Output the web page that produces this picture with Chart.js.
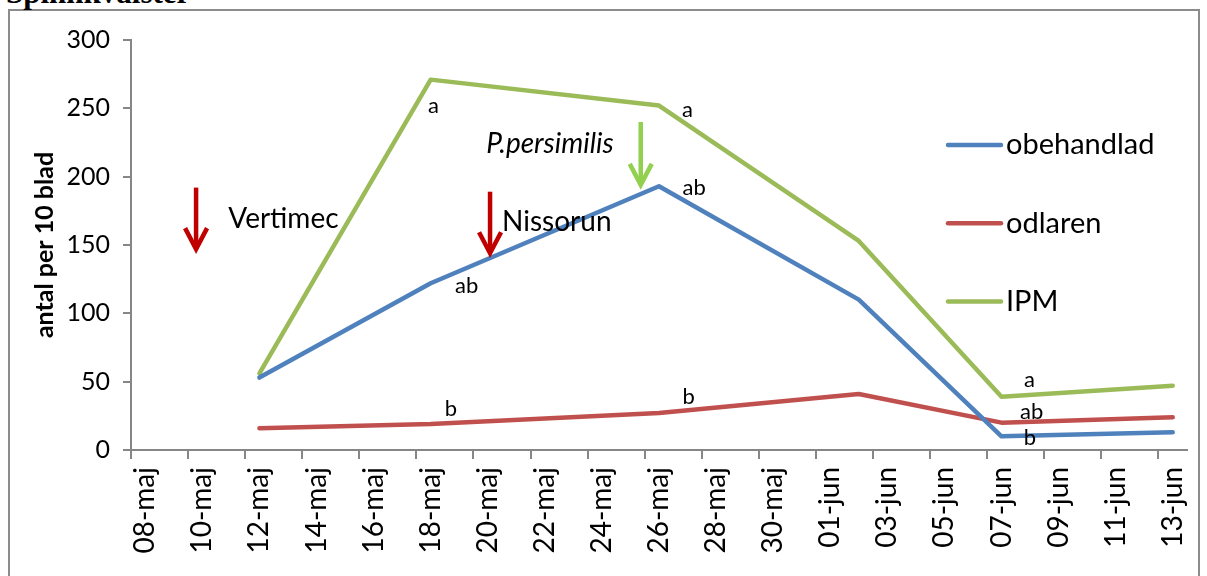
<!DOCTYPE html>
<html>
<head>
<meta charset="utf-8">
<script src="https://cdn.jsdelivr.net/npm/chart.js@4.4.0/dist/chart.umd.min.js"></script>
<style>
  html, body { margin: 0; padding: 0; background: #fff; }
  #wrap { position: relative; width: 1207px; height: 576px; overflow: hidden; }
  #frame { position: absolute; left: 8px; top: 9px; width: 1192px; height: 620px; border: 2px solid #8c8c8c; box-sizing: border-box; }
  #heading { position: absolute; left: 6px; top: -23px; font: bold 31px 'Liberation Serif', serif; line-height: 1; color: #000; white-space: nowrap; }
  canvas { position: absolute; left: 0; top: 0; }
</style>
</head>
<body>
<div id="wrap">
  <div id="frame"></div>
  <div id="heading">Spinnkvalster</div>
  <canvas id="chart" width="1207" height="576"></canvas>
</div>
<script>
// x = days counted from 08-maj
const tickLabels = ['08-maj', '10-maj', '12-maj', '14-maj', '16-maj', '18-maj', '20-maj', '22-maj', '24-maj',
  '26-maj', '28-maj', '30-maj', '01-jun', '03-jun', '05-jun', '07-jun', '09-jun', '11-jun', '13-jun'];
const tickDays = [0, 2, 4, 6, 8, 10, 12, 14, 16, 18, 20, 22, 24, 26, 28, 30, 32, 34, 36];

// sampling dates: 12-maj, 18-maj, 26-maj, 02-jun, 07-jun, 13-jun
const sampleDays = [4, 10, 18, 25, 30, 36];
const obehandlad = [53, 122, 193, 110, 10, 13];
const odlaren    = [16, 19, 27, 41, 20, 24];
const ipm        = [56, 271, 252, 153, 39, 47];

// significance letters next to the points
const letterNotes = [
  { text: 'a',  day: 10.1, y: 252 },
  { text: 'a',  day: 19.0, y: 249 },
  { text: 'ab', day: 11.26, y: 120 },
  { text: 'ab', day: 19.23, y: 192 },
  { text: 'b',  day: 10.71, y: 30 },
  { text: 'b',  day: 19.04, y: 39 },
  { text: 'a',  day: 30.98, y: 51 },
  { text: 'ab', day: 31.06, y: 28 },
  { text: 'b',  day: 31.0, y: 9 },
];

// treatments
const sprayNotes = [
  { text: 'Vertimec',     day: 4.84,  y: 169, italic: false },
  { text: 'Nissorun',     day: 14.42, y: 167, italic: false },
  { text: 'P.persimilis', day: 14.18, y: 224, italic: true },
];
const sprayArrows = [
  { day: 1.78,  from: 192, to: 147, color: '#C00000' },
  { day: 12.08, from: 189, to: 144, color: '#C00000' },
  { day: 17.36, from: 240, to: 194, color: '#92D050' },
];

const COLORS = { blue: '#4F81BD', red: '#C0504D', green: '#9BBB59' };
const AXIS_GRAY = '#868686';
const FONT = 'Lato';

function series(values) {
  return sampleDays.map((d, i) => ({ x: d, y: values[i] }));
}

function lineSet(label, values, color) {
  return {
    label,
    data: series(values),
    borderColor: color,
    backgroundColor: color,
    borderWidth: 4.5,
    borderCapStyle: 'round',
    borderJoinStyle: 'round',
    pointRadius: 0,
    tension: 0,
    fill: false
  };
}

// draws the letters, treatment arrows and the legend on top of the lines
const notesPlugin = {
  id: 'notes',
  afterDatasetsDraw(chart) {
    const { ctx, scales: { x, y } } = chart;
    ctx.save();
    ctx.fillStyle = '#000';
    ctx.textAlign = 'center';
    ctx.textBaseline = 'middle';

    ctx.font = `22px ${FONT}`;
    letterNotes.forEach(n => ctx.fillText(n.text, x.getPixelForValue(n.day), y.getPixelForValue(n.y)));

    sprayNotes.forEach(n => {
      ctx.font = `${n.italic ? 'italic ' : ''}28px ${FONT}`;
      ctx.fillText(n.text, x.getPixelForValue(n.day), y.getPixelForValue(n.y));
    });

    sprayArrows.forEach(a => {
      const px = x.getPixelForValue(a.day);
      const top = y.getPixelForValue(a.from);
      const tip = y.getPixelForValue(a.to);
      ctx.strokeStyle = a.color;
      ctx.lineWidth = 4.5;
      ctx.lineCap = 'butt';
      ctx.beginPath();
      ctx.moveTo(px, top);
      ctx.lineTo(px, tip - 2);
      ctx.stroke();
      ctx.beginPath();
      ctx.moveTo(px - 11, tip - 21);
      ctx.lineTo(px, tip);
      ctx.lineTo(px + 11, tip - 21);
      ctx.stroke();
    });

    // legend
    const lx = 948, ly = 145, gap = 78.3;
    ctx.textAlign = 'left';
    ctx.font = `29px ${FONT}`;
    chart.data.datasets.forEach((ds, i) => {
      const yy = ly + i * gap;
      ctx.strokeStyle = ds.borderColor;
      ctx.lineWidth = 4.5;
      ctx.lineCap = 'round';
      ctx.beginPath();
      ctx.moveTo(lx, yy);
      ctx.lineTo(lx + 53, yy);
      ctx.stroke();
      ctx.fillStyle = '#000';
      ctx.fillText(ds.label, lx + 58, yy);
    });
    ctx.restore();
  }
};

new Chart(document.getElementById('chart'), {
  type: 'line',
  data: {
    datasets: [
      lineSet('obehandlad', obehandlad, COLORS.blue),
      lineSet('odlaren', odlaren, COLORS.red),
      lineSet('IPM', ipm, COLORS.green)
    ]
  },
  options: {
    responsive: false,
    animation: false,
    layout: { padding: { top: 40, right: 20, left: 0, bottom: 0 } },
    plugins: { legend: { display: false }, tooltip: { enabled: false } },
    scales: {
      x: {
        type: 'linear',
        min: -0.5,
        max: 36.5,
        afterBuildTicks(scale) {
          // tick marks sit on day boundaries, labels on the day itself
          scale.ticks = tickDays.map(d => ({ value: d - 0.5 }));
        },
        afterFit(scale) { scale.height = 126; },
        grid: { drawOnChartArea: false, tickLength: 9, color: AXIS_GRAY, lineWidth: 2 },
        border: { color: AXIS_GRAY, width: 2 },
        ticks: {
          autoSkip: false,
          minRotation: 90,
          maxRotation: 90,
          labelOffset: 14.3,
          padding: 8,
          color: '#000',
          font: { family: FONT, size: 28 },
          callback: (v, i) => tickLabels[i]
        }
      },
      y: {
        min: 0,
        max: 300,
        afterFit(scale) { scale.width = 131; },
        grid: { drawOnChartArea: false, tickLength: 8, color: AXIS_GRAY, lineWidth: 2 },
        border: { color: AXIS_GRAY, width: 2 },
        ticks: { stepSize: 50, padding: 13, color: '#000', font: { family: FONT, size: 25 } },
        title: {
          display: true,
          text: 'antal per 10 blad',
          color: '#000',
          font: { family: FONT, size: 25, weight: 'bold' },
          padding: { top: 30, bottom: 0 }
        }
      }
    }
  },
  plugins: [notesPlugin]
});
</script>
</body>
</html>
